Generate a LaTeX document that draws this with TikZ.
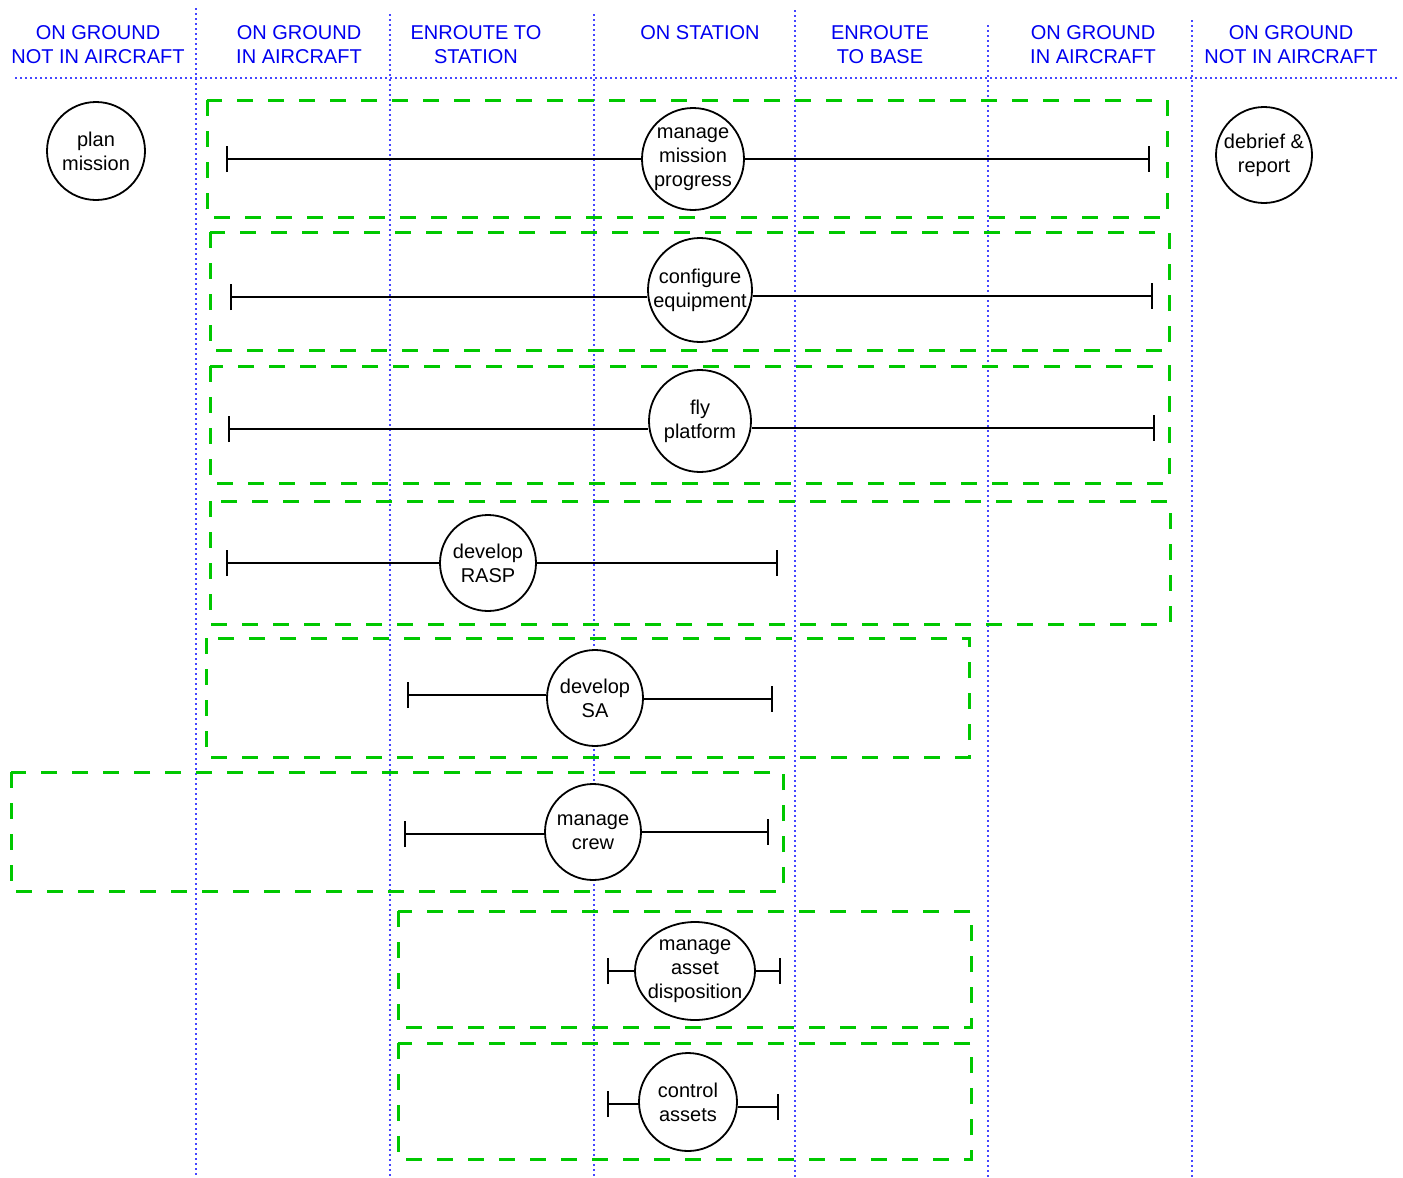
\documentclass[tikz,border=0pt]{standalone}
\usepackage{fontspec}
\setmainfont{Liberation Sans}
\usetikzlibrary{arrows.meta,shapes.geometric}
\definecolor{lanegreen}{RGB}{0,200,0}
\definecolor{laneblue}{RGB}{70,70,255}
\definecolor{headblue}{RGB}{0,0,240}
\begin{document}
\begin{tikzpicture}[x=1pt,y=-1pt,
  every node/.style={font=\fontsize{20}{24}\selectfont},
  phase/.style={text=headblue, align=center, inner sep=0pt},
  lane/.style={laneblue, line width=2pt, dash pattern=on 2pt off 3pt},
  group/.style={lanegreen, line width=3pt, dash pattern=on 16pt off 15pt},
  activity/.style={circle, draw, line width=1.8pt, inner sep=0pt, align=center, fill=white},
  span/.style={line width=1.8pt, {Bar[width=26pt]}-}]
\useasboundingbox (0,0) rectangle (1403,1178);

% phase separators
\draw[lane] (15,78) -- (1397,78);
\draw[lane] (196,8) -- (196,1178);
\draw[lane] (390,14) -- (390,1178);
\draw[lane] (594,14) -- (594,1178);
\draw[lane] (795,10) -- (795,1178);
\draw[lane] (988,25) -- (988,1178);
\draw[lane] (1192,20) -- (1192,1178);

% phase headings
\node[phase] (h1) at (98,45) {ON GROUND\\NOT IN AIRCRAFT};
\node[phase] (h2) at (299,45) {ON GROUND\\IN AIRCRAFT};
\node[phase] (h3) at (476,45) {ENROUTE TO\\STATION};
\node[phase] (h4) at (700,33) {ON STATION};
\node[phase] (h5) at (880,45) {ENROUTE\\TO BASE};
\node[phase] (h6) at (1093,45) {ON GROUND\\IN AIRCRAFT};
\node[phase] (h7) at (1291,45) {ON GROUND\\NOT IN AIRCRAFT};

% activity groups
\draw[group] (207,100) rectangle (1167,217);
\draw[group] (210,232) rectangle (1169,350);
\draw[group] (210,366) rectangle (1169,483);
\draw[group] (210,501) rectangle (1170,624);
\draw[group] (206,638) rectangle (969,757);
\draw[group] (11,772) rectangle (783,891);
\draw[group] (398,911) rectangle (971,1027);
\draw[group] (398,1043) rectangle (971,1159);

% activities
\node[activity, minimum size=98pt] (plan) at (96,151) {plan\\mission};
\node[activity, minimum size=102pt] (mmp) at (693,159) {manage\\mission\\progress};
\node[activity, minimum size=96pt] (debrief) at (1264,155) {debrief \&\\report};
\node[activity, minimum size=104pt] (cfg) at (700,290) {configure\\equipment};
\node[activity, minimum size=102pt] (fly) at (700,421) {fly\\platform};
\node[activity, minimum size=96pt] (rasp) at (488,563) {develop\\RASP};
\node[activity, minimum size=96pt] (sa) at (595,698) {develop\\SA};
\node[activity, minimum size=96pt] (crew) at (593,832) {manage\\crew};
\node[activity, ellipse, inner xsep=-5pt, inner ysep=1pt,
      minimum width=120pt, minimum height=98pt] (mad) at (695,971) {manage\\asset\\disposition};
\node[activity, minimum size=98pt] (ctl) at (688,1102) {control\\assets};

% span ends
\coordinate (mmpL) at (226,159);  \coordinate (mmpR) at (1150,159);
\coordinate (cfgL) at (230,297);  \coordinate (cfgR) at (1153,296);
\coordinate (flyL) at (228,429);  \coordinate (flyR) at (1155,428);
\coordinate (raspL) at (226,563); \coordinate (raspR) at (778,563);
\coordinate (saL) at (407,695);   \coordinate (saR) at (773,699);
\coordinate (crewL) at (404,834); \coordinate (crewR) at (769,832);
\coordinate (madL) at (607,971);  \coordinate (madR) at (781,971);
\coordinate (ctlL) at (607,1104); \coordinate (ctlR) at (779,1107);

% spans
\foreach \n in {mmp,cfg,fly,rasp,sa,crew,mad,ctl}{
  \draw[span] (\n L) -- (\n L -| \n.west);
  \draw[span] (\n R) -- (\n R -| \n.east);
}
\end{tikzpicture}
\end{document}
